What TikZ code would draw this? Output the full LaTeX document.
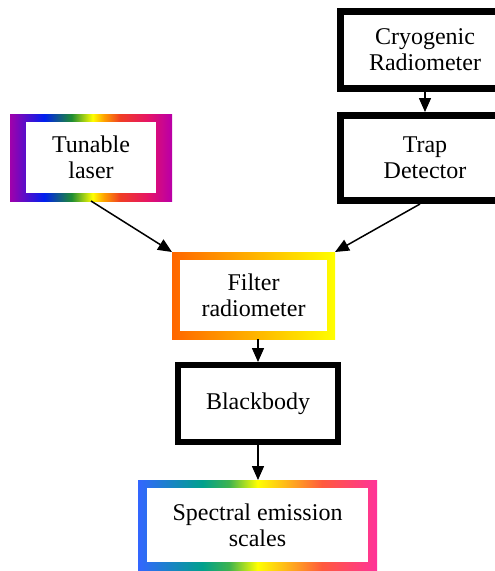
\documentclass[tikz,border=0pt]{standalone}
\usepackage{fontspec}
\setmainfont{Liberation Serif}
\usetikzlibrary{arrows.meta}

\pgfdeclarehorizontalshading{laserbow}{100bp}{rgb(0bp)=(0.63,0,0.67); rgb(25bp)=(0.63,0,0.67); rgb(35.5bp)=(0,0.12,0.94); rgb(44bp)=(0.12,0.55,0.2); rgb(50.5bp)=(1,1,0); rgb(54bp)=(1,0.63,0); rgb(59bp)=(0.94,0.24,0.14); rgb(67.5bp)=(0.9,0.08,0.4); rgb(74bp)=(0.75,0,0.63); rgb(75bp)=(0.72,0,0.65); rgb(100bp)=(0.72,0,0.65)}
\pgfdeclarehorizontalshading{filterbow}{100bp}{rgb(0bp)=(1,0.4,0); rgb(25bp)=(1,0.4,0); rgb(75bp)=(1,1,0); rgb(100bp)=(1,1,0)}
\pgfdeclarehorizontalshading{spectrumbow}{100bp}{rgb(0bp)=(0.2,0.4,1); rgb(25bp)=(0.2,0.4,1); rgb(38.5bp)=(0,0.63,0.55); rgb(44bp)=(0.24,0.7,0.31); rgb(50bp)=(1,1,0); rgb(59.5bp)=(1,0.55,0.16); rgb(63.5bp)=(1,0.35,0.24); rgb(75bp)=(1,0.2,0.6); rgb(100bp)=(1,0.2,0.6)}

\tikzset{
  label text/.style={font=\fontsize{24}{26}\selectfont, align=center, inner sep=0pt},
  gradbox/.style n args={3}{label text, shade, shading=#1, outer sep=0pt,
    path picture={\fill[white] ([xshift=#2pt,yshift=-#3pt]path picture bounding box.north west)
      rectangle ([xshift=-#2pt,yshift=#3pt]path picture bounding box.south east);}},
  blackbox/.style={label text, draw=black, line width=#1, fill=white},
  arr/.style={-{Triangle[length=14pt,width=12pt]}, line width=1.5pt}
}

\begin{document}
\begin{tikzpicture}[x=1pt, y=-1pt]
    \useasboundingbox (0,0) rectangle (495,571);
    \clip (0,0) rectangle (495,571);

    \node[gradbox={laserbow}{16}{8}, minimum width=162pt, minimum height=87pt] (laser) at (91,157.5) {Tunable\\laser};
    \node[blackbox=7pt, minimum width=169pt, minimum height=77pt] (cryo) at (425,50) {Cryogenic\\Radiometer};
    \node[blackbox=7pt, minimum width=169pt, minimum height=85pt] (trap) at (425,158) {Trap\\Detector};
    \node[gradbox={filterbow}{8}{8}, minimum width=163pt, minimum height=87pt] (filter) at (253.5,295.5) {Filter\\radiometer};
    \node[blackbox=6pt, minimum width=160pt, minimum height=77pt] (blackbody) at (258,403.5) {Blackbody};
    \node[gradbox={spectrumbow}{9}{8}, minimum width=239pt, minimum height=90pt] (spectral) at (257.5,525) {Spectral emission\\scales};

    \draw[arr] (cryo) -- (trap);
    \draw[arr] (laser.south) -- (filter.north west);
    \draw[arr] ([xshift=-5pt]trap.south) -- (filter.north east);
    \draw[arr] (blackbody.north |- filter.south) -- (blackbody.north);
    \draw[arr] (blackbody.south) -- (blackbody.south |- spectral.north);
\end{tikzpicture}
\end{document}
